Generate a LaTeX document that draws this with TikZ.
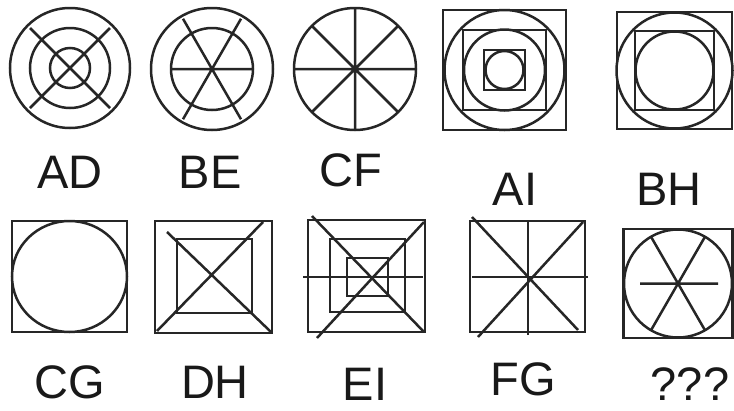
\documentclass[tikz,border=0pt]{standalone}
\usepackage{fontspec}
\setmainfont{Liberation Sans}
\begin{document}
\begin{tikzpicture}[x=1pt,y=-1pt,
  fig/.style={line width=2.5pt, draw=black!85},
  lbl/.style={font=\fontsize{47}{47}\selectfont, text=black!90, anchor=base, inner sep=0pt}]
\useasboundingbox (0,0) rectangle (734,410);
\fill[white] (0,0) rectangle (734,410);
% AD
\begin{scope}[shift={(70,68)}]
  \draw[fig] (0,0) circle[radius=60] (0,0) circle[radius=40] (0,0) circle[radius=20];
  \draw[fig] (-40,-40) -- (40,40) (-40,40) -- (40,-40);
\end{scope}
% BE
\begin{scope}[shift={(212,69)}]
  \draw[fig] (0,0) circle[radius=61] (0,0) circle[radius=41];
  \draw[fig] (-41,0) -- (41,0) (60:58) -- (240:58) (120:58) -- (300:58);
\end{scope}
% CF
\begin{scope}[shift={(355,69)}]
  \draw[fig] (0,0) circle[radius=61];
  \draw[fig] (0:61) -- (180:61) (45:61) -- (225:61) (90:61) -- (270:61) (135:61) -- (315:61);
\end{scope}
% AI
\draw[fig] (443,10) rectangle (566,130);
\draw[fig] (504.5,70) circle[radius=60];
\draw[fig] (463,30) rectangle (546,110);
\draw[fig] (504.5,70) circle[radius=40.5];
\draw[fig] (484,50) rectangle (525,90);
\draw[fig] (504.5,70) circle[radius=19];
% BH
\draw[fig] (617,12) rectangle (732,129);
\draw[fig] (674.5,70.5) circle[radius=58];
\draw[fig] (635,31) rectangle (714,110);
\draw[fig] (674.5,70.5) circle[radius=39];
% CG
\draw[fig] (12,221) rectangle (127,332);
\draw[fig] (69.5,276.5) ellipse[x radius=57.5, y radius=55.5];
% DH
\draw[fig] (155,221) rectangle (272,333);
\draw[fig] (177,239) rectangle (252,313);
\draw[fig] (167,232) -- (271,332) (157,331) -- (263,222);
% EI
\draw[fig] (308,220) rectangle (425,332);
\draw[fig] (330,239) rectangle (405,312);
\draw[fig] (347,258) rectangle (388,296);
\draw[fig] (303,277) -- (423,277);
\draw[fig] (312,216) -- (424,332) (317,338) -- (424,222);
% FG
\draw[fig] (470,221) rectangle (585,332);
\draw[fig] (528,221) -- (528,335) (472,277) -- (588,277);
\draw[fig] (472,217) -- (578,330) (478,337) -- (583,222);
% ???
\begin{scope}[shift={(678,283.5)}]
  \draw[fig] (-54.5,-54.5) rectangle (54.5,54.5);
  \draw[fig] (0,0) circle[radius=54];
  \draw[fig] (-38,0) -- (40,0) (60:53) -- (240:53) (120:53) -- (300:53);
\end{scope}
% labels
\node[lbl] (lAD) at (70,188) {AD};
\node[lbl] (lBE) at (210,188) {BE};
\node[lbl] (lCF) at (351,186) {CF};
\node[lbl] (lAI) at (515,205) {AI};
\node[lbl] (lBH) at (669,205) {BH};
\node[lbl] (lCG) at (70,398) {CG};
\node[lbl] (lDH) at (215,398) {DH};
\node[lbl] (lEI) at (365,400) {EI};
\node[lbl] (lFG) at (523,395) {FG};
\node[lbl] (lQ) at (690,400) {???};
\end{tikzpicture}
\end{document}
